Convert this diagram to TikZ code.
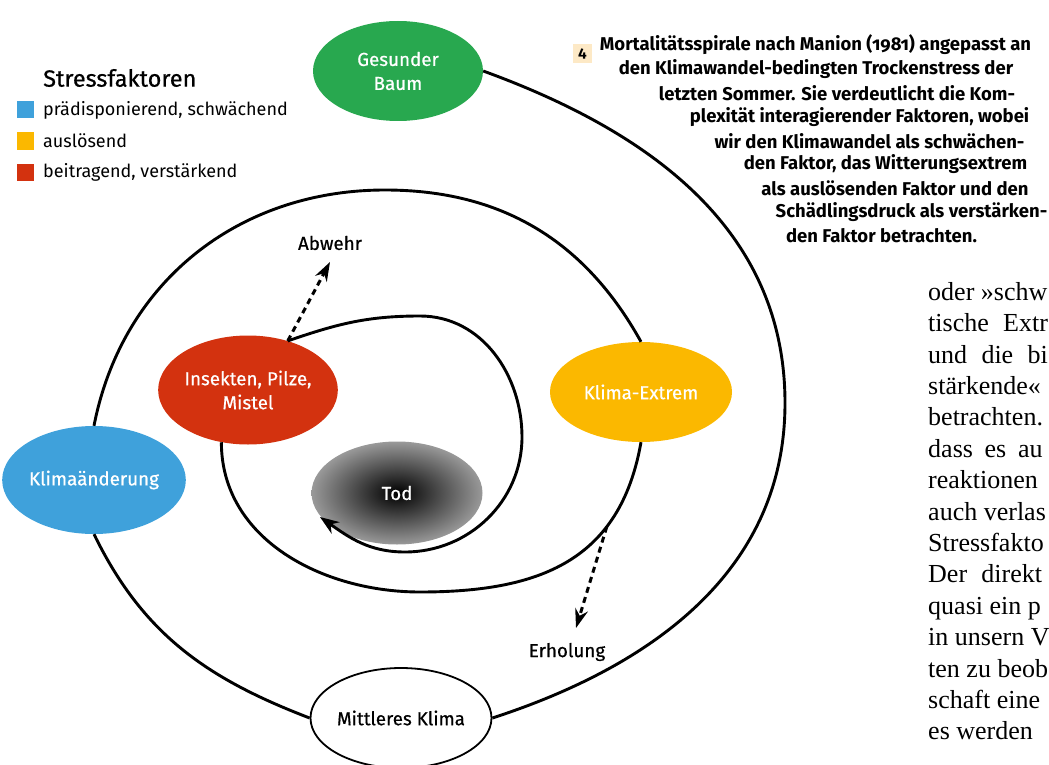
\documentclass[tikz,border=0pt]{standalone}
\usepackage{fontspec}
\setmainfont{Liberation Serif}
\setsansfont{Fira Sans}
\newfontfamily\capfont{Fira Sans}[Numbers=OldStyle]
\newfontfamily\medfont{Fira Sans}[FakeBold=0.6]
\usetikzlibrary{shapes.geometric,arrows.meta}
\definecolor{kgreen}{HTML}{28A84F}
\definecolor{kblue}{HTML}{3FA1DB}
\definecolor{kyellow}{HTML}{FBB800}
\definecolor{kred}{HTML}{D3320F}
\definecolor{kbeige}{HTML}{FDE9C6}
\begin{document}
\begin{tikzpicture}[x=1pt,y=-1pt,
  factor/.style={ellipse,inner sep=0pt,text=white,align=center,font=\medfont\fontsize{18.8}{24}\selectfont},
  spiral/.style={line width=2.9pt},
  dashedarrow/.style={line width=3pt,dash pattern=on 6pt off 4.5pt,-{Stealth[length=19pt,width=13pt]}},
  lab/.style={font=\medfont\fontsize{18.8}{22}\selectfont},
  capline/.style={font=\capfont\bfseries\fontsize{18.5}{22}\selectfont},
  bodyline/.style={anchor=mid west,inner sep=0pt,font=\fontsize{26}{30}\selectfont},
  legsq/.style={minimum size=17pt,inner sep=0pt},
  legtext/.style={anchor=west,inner sep=0pt,font=\sffamily\fontsize{18}{22}\selectfont}
]
\useasboundingbox (0,0) rectangle (1049,765);

% factor nodes
\node[factor,fill=kgreen,minimum width=170pt,minimum height=100pt] (GB) at (398,71) {Gesunder\\Baum};
\node[factor,fill=kyellow,minimum width=182pt,minimum height=100pt] (KE) at (641,392) {Klima-Extrem};
\node[factor,fill=kblue,minimum width=172pt,minimum height=108pt] (KA) at (94,480) {Klimaänderung};
\node[factor,fill=kred,minimum width=171pt,minimum height=109pt] (IP) at (248,390) {Insekten, Pilze,\\Mistel};
\node[factor,shading=radial,inner color=black,outer color=black!40,minimum width=171pt,minimum height=103pt] (Tod) at (397,493) {Tod};
\node[factor,draw=black,line width=1.8pt,text=black,minimum width=181pt,minimum height=100pt] (MK) at (401,718) {Mittleres Klima};

% spiral
\coordinate (R1) at (785,403);
\coordinate (T2) at (385,190);
\coordinate (B3) at (420,592);
\coordinate (T4) at (420,316);
\coordinate (R4) at (522,437);
\coordinate (B4) at (405,552);
\coordinate (tip) at (320,517);
\draw[spiral] (GB.east) to[out=-20,in=90] (R1) to[out=-90,in=18] (MK.east);
\draw[spiral] (MK.west) to[out=159,in=-64] (KA.south);
\draw[spiral] (KA.north) to[out=79,in=180] (T2) to[out=0,in=119] (KE.north);
\draw[spiral] (KE.south) to[out=-100,in=0,looseness=1.15] coordinate[pos=0.3] (E0) (B3) to[out=180,in=-90] (IP.-117);
\draw[spiral,-{Stealth[length=19pt,width=14pt]}] (IP.51) to[out=19,in=180] (T4) to[out=0,in=90] (R4) to[out=-90,in=0] (B4) to[out=180,in=-35] (tip);

% side branches
\node[lab] (abwehr) at (330,243) {Abwehr};
\node[lab] (erholung) at (567,652) {Erholung};
\coordinate (abwtip) at (330,262);
\coordinate (erhtip) at (576,628);
\draw[dashedarrow] (IP.51) -- (abwtip);
\draw[dashedarrow] (E0) -- (erhtip);

% legend
\node[anchor=west,inner sep=0pt,font=\medfont\fontsize{23.5}{26}\selectfont] (legtitle) at (43,78) {Stressfaktoren};
\node[legsq,fill=kblue] (sq1) at (25.5,110) {};
\node[legsq,fill=kyellow] (sq2) at (25.5,141) {};
\node[legsq,fill=kred] (sq3) at (25.5,172) {};
\node[legtext] (lt1) at (43,110) {prädisponierend, schwächend};
\node[legtext] (lt2) at (43,141) {auslösend};
\node[legtext] (lt3) at (43,172) {beitragend, verstärkend};

% caption
\node[fill=kbeige,minimum size=19pt,inner sep=0pt,font=\capfont\bfseries\fontsize{15}{17}\selectfont] (num) at (582.5,53.5) {4};
\node[capline] (c1) at (815.5,45) {Mortalitätsspirale nach Manion (1981) angepasst an};
\node[capline] (c2) at (816,69) {den Klimawandel-bedingten Trockenstress der};
\node[capline] (c3) at (837,93) {letzten Sommer. Sie verdeutlicht die Kom-};
\node[capline] (c4) at (859.5,117) {plexität interagierender Faktoren, wobei};
\node[capline] (c5) at (869.5,141) {wir den Klimawandel als schwächen-};
\node[capline] (c6) at (885.5,164) {den Faktor, das Witterungsextrem};
\node[capline] (c7) at (895,188) {als auslösenden Faktor und den};
\node[capline] (c8) at (911.5,212) {Schädlingsdruck als verstärken-};
\node[capline] (c9) at (881.5,236) {den Faktor betrachten.};

% body text (cut at the right edge)
\node[bodyline] (b1) at (928,298) {oder »schw};
\node[bodyline] (b2) at (928,329.4) {tische\hspace{0.3em} Extr};
\node[bodyline] (b3) at (928,360.8) {und\hspace{0.3em} die\hspace{0.3em} bi};
\node[bodyline] (b4) at (928,392.2) {stärkende«};
\node[bodyline] (b5) at (928,423.6) {betrachten.};
\node[bodyline] (b6) at (928,455) {dass\hspace{0.2em} es\hspace{0.2em} au};
\node[bodyline] (b7) at (928,486.4) {reaktionen};
\node[bodyline] (b8) at (928,517.8) {auch verlas};
\node[bodyline] (b9) at (928,549.2) {Stressfakto};
\node[bodyline] (b10) at (928,580.6) {Der\hspace{0.3em} direkt};
\node[bodyline] (b11) at (928,612) {quasi ein p};
\node[bodyline] (b12) at (928,643.4) {in unsern V};
\node[bodyline] (b13) at (928,674.8) {ten zu beob};
\node[bodyline] (b14) at (928,706.2) {schaft eine};
\node[bodyline] (b15) at (928,737.6) {es werden};
\end{tikzpicture}
\end{document}
